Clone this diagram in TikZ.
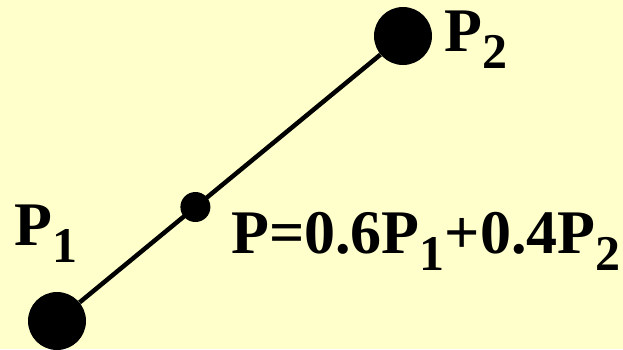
\documentclass[tikz,border=0pt]{standalone}
\usepackage{fontspec}
\setmainfont{Liberation Serif}
\usetikzlibrary{calc}
\definecolor{paper}{HTML}{FFFFCC}
\newcommand{\subidx}[1]{\raisebox{-17pt}{\fontsize{50}{50}\selectfont #1}}
\tikzset{
  bigdot/.style={circle, fill=black, inner sep=0pt, minimum size=58pt},
  smalldot/.style={circle, fill=black, inner sep=0pt, minimum size=30pt},
  ptlabel/.style={anchor=base west, inner sep=0pt, font=\fontsize{62}{62}\selectfont\bfseries}
}

\begin{document}
\begin{tikzpicture}[x=1pt, y=-1pt]
    \fill[paper] (0,0) rectangle (623,349);
    \useasboundingbox (0,0) rectangle (623,349);
    \node[bigdot] (p1) at (57,321) {};
    \node[bigdot] (p2) at (403,36) {};
    \draw[line width=4.5pt] (p1) -- (p2);
    \node[smalldot] (p) at ($(p1)!0.4!(p2)$) {};
    \node[ptlabel] (l1) at (14,245) {P\subidx{1}};
    \node[ptlabel] (l2) at (444,51) {P\subidx{2}};
    \node[ptlabel] (lp) at (231,253) {P=0.6P\subidx{1}+0.4P\subidx{2}};
\end{tikzpicture}
\end{document}
